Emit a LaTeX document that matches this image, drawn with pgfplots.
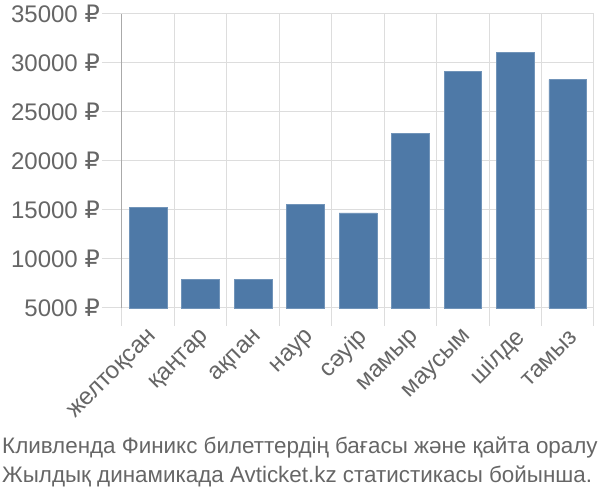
\documentclass[border=0pt]{standalone}
\usepackage{fontspec}
\setmainfont{Liberation Sans}
\newfontfamily\rubfont{DejaVu Sans}
\newcommand{\rub}{{\rubfont ₽}}
\usepackage{pgfplots}
\pgfplotsset{compat=1.18}
\definecolor{barblue}{HTML}{4E79A7}
\definecolor{gridgray}{HTML}{DDDDDD}
\definecolor{axisgray}{HTML}{AAAAAA}
\definecolor{textgray}{HTML}{666666}

\begin{document}
\begin{tikzpicture}
\begin{axis}[
  scale only axis,
  width=472pt, height=294pt,
  xmin=-0.5, xmax=8.5, ymin=5000, ymax=35000,
  axis lines*=left,
  x axis line style={draw=gridgray, line width=1pt},
  y axis line style={draw=axisgray, line width=1pt},
  xtick={0,...,8},
  xticklabels={желтоқсан,қаңтар,ақпан,наур,сәуір,мамыр,маусым,шілде,тамыз},
  minor xtick={-0.5,0.5,...,8.5},
  major x tick style={draw=none},
  minor x tick style={draw=gridgray, line width=1pt},
  minor tick length=18pt,
  xminorgrids=true,
  ytick={5000,10000,...,35000},
  yticklabels={5000 \rub,10000 \rub,15000 \rub,20000 \rub,25000 \rub,30000 \rub,35000 \rub},
  scaled y ticks=false,
  major y tick style={draw=gridgray, line width=1pt},
  major tick length=20pt,
  tick align=outside,
  ymajorgrids=true,
  grid style={draw=gridgray, line width=1pt},
  minor grid style={draw=gridgray, line width=1pt},
  tick label style={font=\fontsize{24}{28}\selectfont, text=textgray},
  yticklabel style={inner sep=2pt},
  xticklabel style={anchor=east, inner sep=0pt, xshift=6pt, yshift=-6pt, rotate=45},
  clip=false,
]
\addplot[ybar, bar width=0.72, fill=barblue, draw=barblue!80!white, line width=0.6pt] coordinates {
  (0,15300) (1,7900) (2,7900) (3,15600) (4,14700) (5,22800) (6,29150) (7,31100) (8,28300)
};
\end{axis}
\node[anchor=base west, inner sep=0pt, text=textgray, font=\fontsize{22.4}{26}\selectfont] at (-120pt,-146pt) {Кливленда Финикс билеттердің бағасы және қайта оралу};
\node[anchor=base west, inner sep=0pt, text=textgray, font=\fontsize{22.4}{26}\selectfont] at (-120pt,-175pt) {Жылдық динамикада Avticket.kz статистикасы бойынша.};
\pgfresetboundingbox
\path (-122pt,-192pt) rectangle (478pt,308pt);
\end{tikzpicture}
\end{document}
